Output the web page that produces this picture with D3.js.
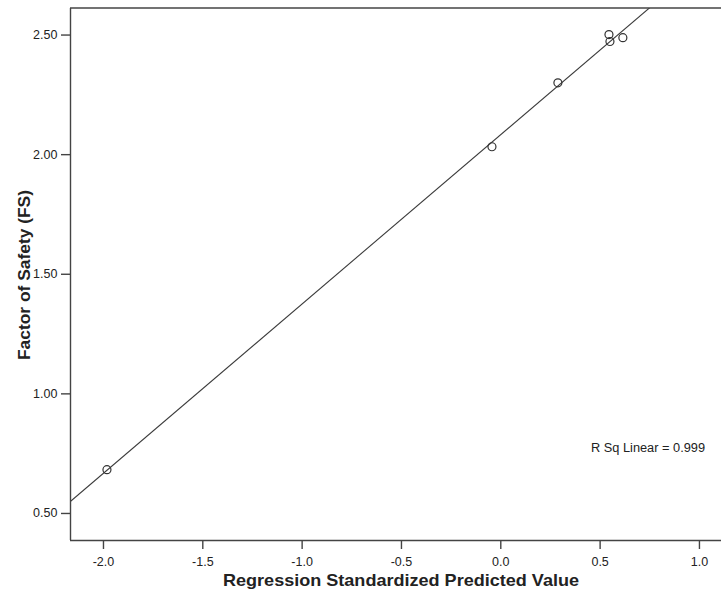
<!DOCTYPE html>
<html>
<head>
<meta charset="utf-8">
<script src="https://cdn.jsdelivr.net/npm/d3@7"></script>
<style>
  html, body { margin: 0; padding: 0; background: #fff; }
  svg { display: block; }
  text { font-family: "Liberation Sans", Arial, sans-serif; fill: #222; }
</style>
</head>
<body>
<svg id="chart" width="721" height="589"></svg>
<script>
// ---- data ----
const predicted = [-1.98, -0.042, 0.29, 0.547, 0.552, 0.617];
const factorOfSafety = [0.681, 2.031, 2.298, 2.500, 2.471, 2.487];
const xTicks = [-2.0, -1.5, -1.0, -0.5, 0.0, 0.5, 1.0];
const yTicks = [0.50, 1.00, 1.50, 2.00, 2.50];
const rSqLabel = "R Sq Linear = 0.999";
const xTitle = "Regression Standardized Predicted Value";
const yTitle = "Factor of Safety (FS)";

const W = 721, H = 589;
const m = { left: 70, top: 8, bottom: 540 };
const svg = d3.select("#chart");

const x = d3.scaleLinear().domain([-2.166, 1.111]).range([m.left, W]);
const y = d3.scaleLinear().domain([0.387, 2.611]).range([m.bottom, m.top]);

svg.append("defs").append("clipPath").attr("id", "clip")
  .append("rect").attr("x", m.left).attr("y", m.top)
  .attr("width", W - m.left).attr("height", m.bottom - m.top);

// least-squares fit line from the data
const n = predicted.length;
const mx = d3.mean(predicted), my = d3.mean(factorOfSafety);
let sxy = 0, sxx = 0;
for (let i = 0; i < n; i++) { sxy += (predicted[i]-mx)*(factorOfSafety[i]-my); sxx += (predicted[i]-mx)**2; }
const slope = sxy / sxx, icpt = my - slope * mx;
const xd = x.domain();
const plot = svg.append("g").attr("clip-path", "url(#clip)");
plot.append("line")
  .attr("x1", x(xd[0])).attr("y1", y(icpt + slope * xd[0]))
  .attr("x2", x(xd[1])).attr("y2", y(icpt + slope * xd[1]))
  .attr("stroke", "#3a3a3a").attr("stroke-width", 1.1);

plot.selectAll("circle").data(predicted).join("circle")
  .attr("cx", d => x(d)).attr("cy", (d, i) => y(factorOfSafety[i]))
  .attr("r", 4).attr("fill", "none").attr("stroke", "#333").attr("stroke-width", 1.2);

// axes
const xAxis = svg.append("g").attr("transform", `translate(0,${m.bottom})`)
  .call(d3.axisBottom(x).tickValues(xTicks).tickFormat(d => d.toFixed(1)).tickSize(9).tickSizeOuter(0));
const yAxis = svg.append("g").attr("transform", `translate(${m.left},0)`)
  .call(d3.axisLeft(y).tickValues(yTicks).tickFormat(d => d.toFixed(2)).tickSize(9).tickSizeOuter(0));
[xAxis, yAxis].forEach(a => {
  a.select(".domain").attr("stroke", "#444").attr("stroke-width", 1.4);
  a.selectAll(".tick line").attr("stroke", "#444").attr("stroke-width", 1.4);
  a.selectAll(".tick text").attr("font-size", 12.5).attr("fill", "#222")
    .attr("font-family", "'Liberation Sans', Arial, sans-serif");
});
xAxis.select(".domain").attr("d", `M${m.left},0.5H${W}`);
yAxis.select(".domain").attr("d", `M0.5,${m.top}V${m.bottom}`);
xAxis.selectAll(".tick text").attr("dy", "1.1em");
yAxis.selectAll(".tick text").attr("dx", "-0.05em");

// top frame
svg.append("line").attr("x1", m.left).attr("x2", W).attr("y1", m.top).attr("y2", m.top)
  .attr("stroke", "#444").attr("stroke-width", 1.4);

// titles
svg.append("text").attr("x", 401).attr("y", 586).attr("text-anchor", "middle")
  .attr("font-size", 17).attr("font-weight", "bold")
  .attr("textLength", 356).attr("lengthAdjust", "spacingAndGlyphs").text(xTitle);
svg.append("text").attr("transform", "translate(30,275) rotate(-90)").attr("text-anchor", "middle")
  .attr("font-size", 17).attr("font-weight", "bold")
  .attr("textLength", 170).attr("lengthAdjust", "spacingAndGlyphs").text(yTitle);

svg.append("text").attr("x", 591).attr("y", 452).attr("font-size", 12)
  .attr("textLength", 114).attr("lengthAdjust", "spacingAndGlyphs").text(rSqLabel);
</script>
</body>
</html>
